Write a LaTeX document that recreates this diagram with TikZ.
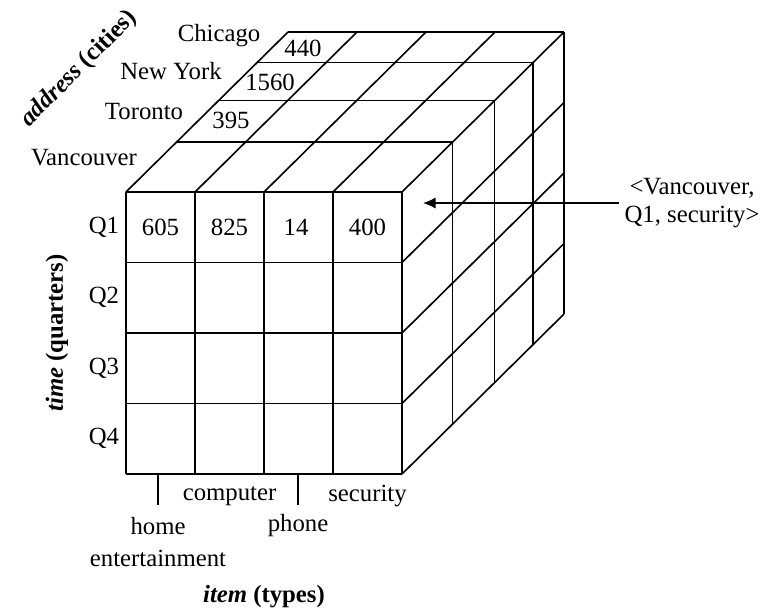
\documentclass[tikz,border=0pt]{standalone}
\usepackage{fontspec}
\setmainfont{Liberation Serif}
\usepackage{tikz}
\usetikzlibrary{arrows.meta}

\begin{document}
\begin{tikzpicture}[x = 0.4pt, y = -0.4pt, line width = 0.65pt,
                        lbl/.style = {font = \fontsize{9.9}{11}\selectfont, inner sep = 2pt},
                        axis/.style = {font = \fontsize{9.9}{11}\selectfont\bfseries, inner sep = 0pt}]
    \useasboundingbox (0, 0) rectangle (771, 608);
    % front face
    \foreach \c in {0, 1, 2, 3, 4}
      \draw (126 + 69*\c, 192) -- (126 + 69*\c, 474);
    \foreach \r in {0, 1, 2, 3, 4}
      \draw (126, 192 + 70.5*\r) -- (402, 192 + 70.5*\r);
    % top face
    \foreach \d in {0.312, 0.571, 0.809, 1}
      \draw (126 + 162*\d, 192 - 160*\d) -- (402 + 162*\d, 192 - 160*\d);
    \foreach \c in {0, 1, 2, 3, 4}
      \draw (126 + 69*\c, 192) -- ++(162, -160);
    % right face
    \foreach \d in {0.312, 0.571, 0.809, 1}
      \draw (402 + 162*\d, 192 - 160*\d) -- (402 + 162*\d, 474 - 160*\d);
    \foreach \r in {1, 2, 3, 4}
      \draw (402, 192 + 70.5*\r) -- ++(162, -160);

    \node [lbl] (chicago) at (219, 36) {Chicago};
    \node [lbl] (newyork) at (171, 71) {New York};
    \node [lbl] (toronto) at (144, 112) {Toronto};
    \node [lbl] (vancouver) at (84, 158) {Vancouver};
    \node [lbl] (v440) at (303, 48) {440};
    \node [lbl] (v1560) at (270, 82) {1560};
    \node [lbl] (v395) at (231, 120) {395};

    \node [lbl] (q1) at (104, 227) {Q1};
    \node [lbl] (q2) at (104, 297) {Q2};
    \node [lbl] (q3) at (104, 368) {Q3};
    \node [lbl] (q4) at (104, 438) {Q4};
    \node [lbl] (v605) at (160.5, 227) {605};
    \node [lbl] (v825) at (229.5, 227) {825};
    \node [lbl] (v14) at (296, 227) {14};
    \node [lbl] (v400) at (367.5, 227) {400};

    \draw (158, 475) -- (158, 505);
    \draw (298, 475) -- (298, 505);
    \node [lbl] (computer) at (229.5, 496) {computer};
    \node [lbl] (security) at (367.5, 496) {security};
    \node [lbl] (home) at (158, 526) {home};
    \node [lbl] (entertain) at (158, 558) {entertainment};
    \node [lbl] (phone) at (298, 526) {phone};

    \node [axis, rotate = 45] (address) at (79, 69) {\textit{address} (cities)};
    \node [axis, rotate = 90] (time) at (57, 333) {\textit{time} (quarters)};
    \node [axis] (item) at (264, 597) {\textit{item} (types)};

    \coordinate (cell) at (423, 203);
    \node [lbl, align = center] (point) at (692, 203) {<Vancouver,\\Q1, security>};
    \draw [-{Latex[length = 5pt, width = 4.5pt]}] (point) -- (cell);
  \end{tikzpicture}
\end{document}
